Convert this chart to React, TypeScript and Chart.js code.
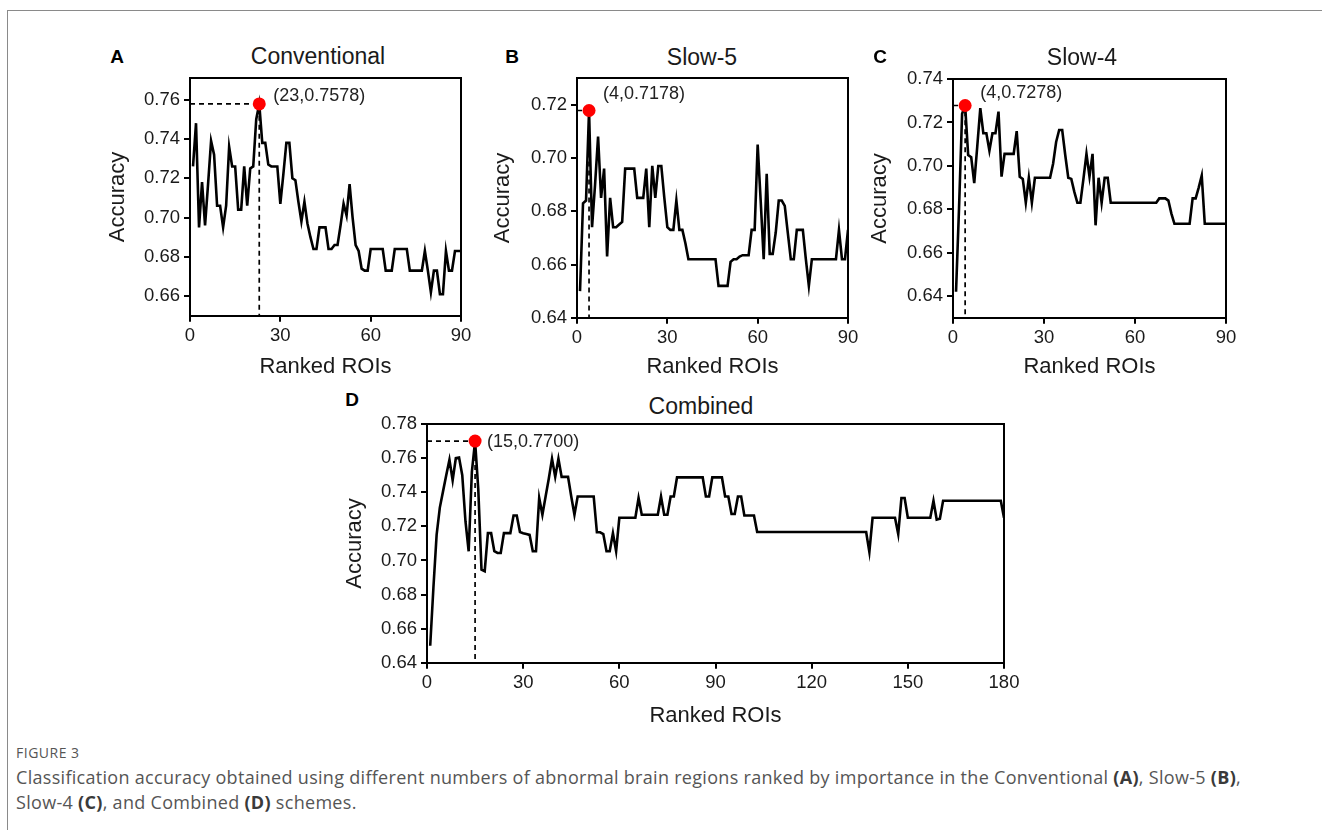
import React, { useEffect, useRef } from "react";
import { Chart, registerables } from "chart.js";

Chart.register(...registerables);

const FONT = "'Liberation Sans', Arial, Helvetica, sans-serif";
const CAPTION_FONT = "'Open Sans', 'Noto Sans', sans-serif";

// ---------- data ----------
const xTicks90 = [0, 30, 60, 90];
const xTicks180 = [0, 30, 60, 90, 120, 150, 180];

const yTicksConventional = [0.66, 0.68, 0.7, 0.72, 0.74, 0.76];
const yTicksSlow5 = [0.64, 0.66, 0.68, 0.7, 0.72];
const yTicksSlow4 = [0.64, 0.66, 0.68, 0.7, 0.72, 0.74];
const yTicksCombined = [0.64, 0.66, 0.68, 0.7, 0.72, 0.74, 0.76, 0.78];

const accConventional = [
  0.726, 0.748, 0.695, 0.718, 0.696, 0.717, 0.739, 0.732, 0.706, 0.706,
  0.695, 0.706, 0.736, 0.726, 0.726, 0.704, 0.704, 0.726, 0.706, 0.725,
  0.726, 0.75, 0.7578, 0.738, 0.738, 0.727, 0.726, 0.726, 0.726, 0.707,
  0.722, 0.738, 0.738, 0.72, 0.719, 0.708, 0.698, 0.708, 0.697, 0.69,
  0.684, 0.684, 0.695, 0.695, 0.695, 0.684, 0.684, 0.686, 0.686, 0.696,
  0.707, 0.701, 0.717, 0.7, 0.686, 0.683, 0.674, 0.673, 0.673, 0.684,
  0.684, 0.684, 0.684, 0.684, 0.673, 0.673, 0.673, 0.684, 0.684, 0.684,
  0.684, 0.684, 0.673, 0.673, 0.673, 0.673, 0.673, 0.683, 0.673, 0.662,
  0.673, 0.673, 0.661, 0.661, 0.683, 0.673, 0.673, 0.683, 0.683, 0.683,
];

const accSlow5 = [
  0.65, 0.683, 0.684, 0.7178, 0.674, 0.69, 0.708, 0.685, 0.696, 0.663,
  0.685, 0.674, 0.674, 0.675, 0.676, 0.696, 0.696, 0.696, 0.696, 0.685,
  0.685, 0.685, 0.696, 0.674, 0.697, 0.685, 0.697, 0.697, 0.685, 0.674,
  0.673, 0.673, 0.684, 0.673, 0.673, 0.668, 0.662, 0.662, 0.662, 0.662,
  0.662, 0.662, 0.662, 0.662, 0.662, 0.662, 0.652, 0.652, 0.652, 0.652,
  0.661, 0.662, 0.662, 0.663, 0.6635, 0.6635, 0.6635, 0.673, 0.673, 0.705,
  0.684, 0.662, 0.694, 0.664, 0.664, 0.672, 0.684, 0.684, 0.682, 0.672,
  0.662, 0.662, 0.673, 0.673, 0.673, 0.662, 0.652, 0.662, 0.662, 0.662,
  0.662, 0.662, 0.662, 0.662, 0.662, 0.662, 0.673, 0.662, 0.662, 0.673,
];

const accSlow4 = [
  0.642, 0.681, 0.724, 0.7278, 0.705, 0.704, 0.692, 0.709, 0.7266, 0.715,
  0.715, 0.707, 0.715, 0.715, 0.725, 0.695, 0.7055, 0.7055, 0.7055, 0.7055,
  0.716, 0.695, 0.694, 0.683, 0.6945, 0.683, 0.6945, 0.6945, 0.6945, 0.6945,
  0.6945, 0.6945, 0.701, 0.711, 0.7165, 0.7165, 0.705, 0.6945, 0.694, 0.688,
  0.683, 0.683, 0.694, 0.7055, 0.695, 0.7055, 0.6726, 0.6945, 0.683, 0.6945,
  0.6945, 0.683, 0.683, 0.683, 0.683, 0.683, 0.683, 0.683, 0.683, 0.683,
  0.683, 0.683, 0.683, 0.683, 0.683, 0.683, 0.683, 0.685, 0.685, 0.685,
  0.684, 0.678, 0.6733, 0.6733, 0.6733, 0.6733, 0.6733, 0.6733, 0.685, 0.685,
  0.69, 0.6955, 0.6733, 0.6733, 0.6733, 0.6733, 0.6733, 0.6733, 0.6733, 0.6733,
];

const accCombined = [
  0.65, 0.684, 0.715, 0.731, 0.7405, 0.75, 0.759, 0.747, 0.76, 0.7604,
  0.75, 0.723, 0.7054, 0.752, 0.77, 0.7415, 0.6946, 0.6937, 0.716, 0.716,
  0.7054, 0.7044, 0.7044, 0.716, 0.716, 0.716, 0.7264, 0.7264, 0.7167, 0.716,
  0.7155, 0.715, 0.7054, 0.7054, 0.7366, 0.7268, 0.7375, 0.748, 0.7596, 0.749,
  0.7596, 0.749, 0.749, 0.749, 0.7375, 0.7268, 0.7375, 0.7375, 0.7375, 0.7375,
  0.7375, 0.7375, 0.7165, 0.7165, 0.7155, 0.7054, 0.7054, 0.716, 0.7054, 0.725,
  0.725, 0.725, 0.725, 0.725, 0.725, 0.7366, 0.7268, 0.7268, 0.7268, 0.7268,
  0.7268, 0.7268, 0.7375, 0.7268, 0.7268, 0.7375, 0.7375, 0.7487, 0.7487, 0.7487,
  0.7487, 0.7487, 0.7487, 0.7487, 0.7487, 0.7487, 0.7375, 0.7375, 0.7487, 0.7487,
  0.7487, 0.7487, 0.7375, 0.7375, 0.7272, 0.7272, 0.7375, 0.7375, 0.7264, 0.7264,
  0.7264, 0.7264, 0.7167, 0.7167, 0.7167, 0.7167, 0.7167, 0.7167, 0.7167, 0.7167,
  0.7167, 0.7167, 0.7167, 0.7167, 0.7167, 0.7167, 0.7167, 0.7167, 0.7167, 0.7167,
  0.7167, 0.7167, 0.7167, 0.7167, 0.7167, 0.7167, 0.7167, 0.7167, 0.7167, 0.7167,
  0.7167, 0.7167, 0.7167, 0.7167, 0.7167, 0.7167, 0.7167, 0.705, 0.725, 0.725,
  0.725, 0.725, 0.725, 0.725, 0.725, 0.725, 0.7155, 0.7366, 0.7366, 0.725,
  0.725, 0.725, 0.725, 0.725, 0.725, 0.725, 0.725, 0.735, 0.724, 0.7245,
  0.735, 0.735, 0.735, 0.735, 0.735, 0.735, 0.735, 0.735, 0.735, 0.735,
  0.735, 0.735, 0.735, 0.735, 0.735, 0.735, 0.735, 0.735, 0.735, 0.725,
];

const bestConventional = { x: 23, y: 0.7578 };
const bestSlow5 = { x: 4, y: 0.7178 };
const bestSlow4 = { x: 4, y: 0.7278 };
const bestCombined = { x: 15, y: 0.77 };

// ---------- layout / styles ----------
type Panel = {
  letter: string;
  title: string;
  values: number[];
  best: { x: number; y: number };
  xMax: number;
  xTicks: number[];
  yMin: number;
  yMax: number;
  yTicks: number[];
  area: { l: number; t: number; r: number; b: number };
  yTitleX: number;
  xTitleY: number;
  titleX: number;
  titleY: number;
  letterX: number;
  letterY: number;
  labelDx: number;
  labelDy: number;
};

const panels: Panel[] = [
  {
    letter: "A", title: "Conventional", values: accConventional, best: bestConventional,
    xMax: 90, xTicks: xTicks90, yMin: 0.65, yMax: 0.771, yTicks: yTicksConventional,
    area: { l: 190, t: 78, r: 461, b: 316 }, yTitleX: 118, xTitleY: 367,
    titleX: 318, titleY: 56, letterX: 117, letterY: 57, labelDx: 14, labelDy: -8,
  },
  {
    letter: "B", title: "Slow-5", values: accSlow5, best: bestSlow5,
    xMax: 90, xTicks: xTicks90, yMin: 0.64, yMax: 0.73, yTicks: yTicksSlow5,
    area: { l: 577, t: 78, r: 848, b: 318 }, yTitleX: 503, xTitleY: 367,
    titleX: 702, titleY: 57, letterX: 512, letterY: 57, labelDx: 14, labelDy: -16,
  },
  {
    letter: "C", title: "Slow-4", values: accSlow4, best: bestSlow4,
    xMax: 90, xTicks: xTicks90, yMin: 0.63, yMax: 0.74, yTicks: yTicksSlow4,
    area: { l: 953, t: 79, r: 1226, b: 318 }, yTitleX: 880, xTitleY: 367,
    titleX: 1082, titleY: 57, letterX: 880, letterY: 57, labelDx: 15, labelDy: -12,
  },
  {
    letter: "D", title: "Combined", values: accCombined, best: bestCombined,
    xMax: 180, xTicks: xTicks180, yMin: 0.64, yMax: 0.78, yTicks: yTicksCombined,
    area: { l: 427, t: 424, r: 1004, b: 663 }, yTitleX: 355, xTitleY: 716,
    titleX: 701, titleY: 406, letterX: 352, letterY: 400, labelDx: 12, labelDy: 1,
  },
];

const PAD_T = 20;
const PAD_R = 26;
const TITLE_LH = 22 * 1.2;

const framePlugin = {
  id: "frame",
  beforeDatasetsDraw(chart: any) {
    const { ctx, chartArea } = chart;
    ctx.save();
    ctx.strokeStyle = "#000";
    ctx.lineWidth = 2;
    ctx.beginPath();
    ctx.moveTo(chartArea.left, chartArea.top);
    ctx.lineTo(chartArea.right, chartArea.top);
    ctx.lineTo(chartArea.right, chartArea.bottom);
    ctx.stroke();
    ctx.restore();
  },
};

function makeLabelPlugin(p: Panel) {
  return {
    id: "bestLabel",
    afterDatasetsDraw(chart: any) {
      const { ctx, scales } = chart;
      const px = scales.x.getPixelForValue(p.best.x);
      const py = scales.y.getPixelForValue(p.best.y);
      ctx.save();
      ctx.fillStyle = "#222";
      ctx.font = `18px ${FONT}`;
      ctx.textAlign = "left";
      ctx.textBaseline = "middle";
      ctx.fillText(`(${p.best.x},${p.best.y.toFixed(4)})`, px + p.labelDx, py + p.labelDy);
      ctx.restore();
    },
  };
}

function PanelChart({ p }: { p: Panel }) {
  const ref = useRef<HTMLCanvasElement>(null);
  const canvasLeft = p.yTitleX - 15;
  const wy = p.area.l - canvasLeft;
  const canvasTop = p.area.t - PAD_T;
  const hx = p.xTitleY + TITLE_LH / 2 - p.area.b;
  const width = Math.round(p.area.r + PAD_R - canvasLeft);
  const height = Math.round(p.area.b + hx + 2 - canvasTop);

  useEffect(() => {
    const axisCommon = {
      type: "linear" as const,
      grid: {
        display: true, drawOnChartArea: false, drawTicks: true,
        tickLength: 6, color: "#000", lineWidth: 2,
      },
      border: { display: true, color: "#000", width: 2 },
    };
    const chart = new Chart(ref.current as HTMLCanvasElement, {
      type: "line",
      data: {
        datasets: [
          {
            label: "best",
            data: [{ x: p.best.x, y: p.best.y }],
            showLine: false,
            pointRadius: 6.5,
            pointBackgroundColor: "#ff0000",
            pointBorderColor: "#ff0000",
            pointBorderWidth: 0,
            clip: false,
          } as any,
          {
            label: "guide",
            data: [
              { x: 0, y: p.best.y },
              { x: p.best.x, y: p.best.y },
              { x: p.best.x, y: p.yMin },
            ],
            borderColor: "#000",
            borderWidth: 1.7,
            borderDash: [5, 4],
            pointRadius: 0,
            fill: false,
          },
          {
            label: "accuracy",
            data: p.values.map((v, i) => ({ x: i + 1, y: v })),
            borderColor: "#000",
            borderWidth: 2.6,
            pointRadius: 0,
            tension: 0,
            fill: false,
          },
        ],
      },
      options: {
        animation: false,
        responsive: false,
        maintainAspectRatio: false,
        devicePixelRatio: 1,
        layout: { padding: { top: PAD_T, right: PAD_R, bottom: 2, left: 0 } },
        plugins: {
          legend: { display: false },
          tooltip: { enabled: false },
          title: { display: false },
        },
        scales: {
          x: {
            ...axisCommon,
            min: 0,
            max: p.xMax,
            afterBuildTicks: (s: any) => {
              s.ticks = p.xTicks.map((v) => ({ value: v }));
            },
            afterFit: (s: any) => {
              s.height = hx;
            },
            ticks: {
              color: "#1a1a1a",
              font: { family: FONT, size: 18.5 },
              padding: 3,
              maxRotation: 0,
              autoSkip: false,
            },
            title: {
              display: true,
              text: "Ranked ROIs",
              color: "#1a1a1a",
              font: { family: FONT, size: 22 },
              padding: { top: 0, bottom: 0 },
            },
          },
          y: {
            ...axisCommon,
            min: p.yMin,
            max: p.yMax,
            afterBuildTicks: (s: any) => {
              s.ticks = p.yTicks.map((v) => ({ value: v }));
            },
            afterFit: (s: any) => {
              s.width = wy;
            },
            ticks: {
              color: "#1a1a1a",
              font: { family: FONT, size: 18.5 },
              padding: 4,
              autoSkip: false,
              callback: (v: any) => Number(v).toFixed(2),
            },
            title: {
              display: true,
              text: "Accuracy",
              color: "#1a1a1a",
              font: { family: FONT, size: 22 },
              padding: { top: 2, bottom: 0 },
            },
          },
        },
      } as any,
      plugins: [framePlugin, makeLabelPlugin(p)],
    });
    return () => chart.destroy();
  }, []);

  return (
    <canvas
      ref={ref}
      width={width}
      height={height}
      style={{ position: "absolute", left: canvasLeft, top: canvasTop, width, height }}
    />
  );
}

export default function App() {
  return (
    <div
      style={{
        position: "absolute", left: 0, top: 0, width: 1322, height: 830,
        background: "#fff", overflow: "hidden",
      }}
    >
      <div
        style={{
          position: "absolute", left: 7, top: 10, width: 1315, height: 820,
          borderTop: "1px solid #8a8a8a", borderLeft: "1px solid #8a8a8a",
        }}
      />
      {panels.map((p) => (
        <React.Fragment key={p.letter}>
          <div
            style={{
              position: "absolute", left: p.letterX - 20, top: p.letterY - 12, width: 40,
              height: 24, lineHeight: "24px", textAlign: "center", fontFamily: FONT,
              fontWeight: 700, fontSize: 19, color: "#000",
            }}
          >
            {p.letter}
          </div>
          <div
            style={{
              position: "absolute", left: p.titleX - 150, top: p.titleY - 13, width: 300,
              height: 26, lineHeight: "26px", textAlign: "center", fontFamily: FONT,
              fontSize: 23, color: "#1a1a1a",
            }}
          >
            {p.title}
          </div>
          <PanelChart p={p} />
        </React.Fragment>
      ))}
      <div
        style={{
          position: "absolute", left: 16, top: 744, fontFamily: CAPTION_FONT,
          fontSize: 14, lineHeight: "18px", color: "#555", letterSpacing: 0.5,
        }}
      >
        FIGURE 3
      </div>
      <div
        style={{
          position: "absolute", left: 16, top: 765, width: 1300, fontFamily: CAPTION_FONT,
          fontSize: 18, lineHeight: "25px", color: "#555", letterSpacing: 0.3,
          whiteSpace: "nowrap",
        }}
      >
        Classification accuracy obtained using different numbers of abnormal brain regions ranked by
        importance in the Conventional <b style={{ color: "#3a3a3a" }}>(A)</b>, Slow-5{" "}
        <b style={{ color: "#3a3a3a" }}>(B)</b>,
        <br />
        Slow-4 <b style={{ color: "#3a3a3a" }}>(C)</b>, and Combined{" "}
        <b style={{ color: "#3a3a3a" }}>(D)</b> schemes.
      </div>
    </div>
  );
}
